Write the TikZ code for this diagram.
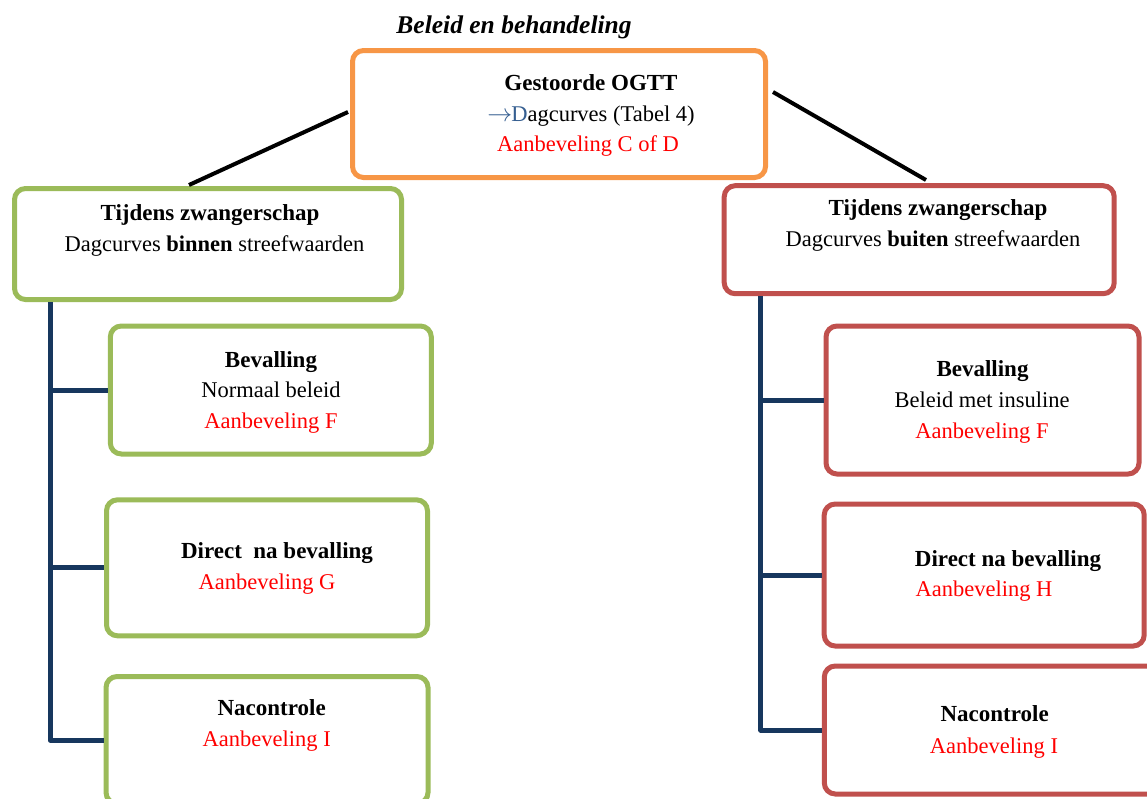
\documentclass[tikz,border=0pt]{standalone}
\usepackage{fontspec}
\setmainfont{Liberation Serif}
\usetikzlibrary{calc}
\definecolor{orangeB}{HTML}{F79646}
\definecolor{greenB}{HTML}{9BBB59}
\definecolor{redB}{HTML}{C0504D}
\definecolor{navy}{HTML}{17375E}
\definecolor{arrowblue}{HTML}{365F91}
\definecolor{recred}{HTML}{FF0000}
\begin{document}
\begin{tikzpicture}[x=1pt,y=-1pt,
  box/.style={draw, line width=5pt, rounded corners=11pt, fill=white, inner sep=0pt},
  txt/.style={anchor=base, inner sep=0pt, font=\fontsize{22.5}{26}\selectfont},
  bold/.style={txt, font=\fontsize{23}{26}\selectfont\bfseries},
  rec/.style={txt, text=recred},
  tree/.style={draw=navy, line width=5pt, line join=round},
  link/.style={draw=black, line width=4pt}]
\useasboundingbox (0,0) rectangle (1147,798);
\clip (0,0) rectangle (1147,798);

% boxes
\node[box, draw=orangeB, minimum width=413pt, minimum height=127pt] (top) at (559,114) {};
\node[box, draw=greenB, minimum width=387pt, minimum height=111pt] (lz) at (208,244) {};
\node[box, draw=redB, minimum width=390pt, minimum height=108pt] (rz) at (919.2,239.7) {};
\node[box, draw=greenB, minimum width=321pt, minimum height=128pt] (b1) at (270.8,390) {};
\node[box, draw=greenB, minimum width=321pt, minimum height=136pt] (b2) at (267,567.8) {};
\node[box, draw=greenB, minimum width=322pt, minimum height=127pt] (b3) at (267,740) {};
\node[box, draw=redB, minimum width=313pt, minimum height=148pt] (r1) at (982.5,400) {};
\node[box, draw=redB, minimum width=320pt, minimum height=142pt] (r2) at (984.2,575) {};
\node[box, draw=redB, minimum width=343pt, minimum height=128pt] (r3) at (995.8,730) {};

% title
\node[anchor=base, inner sep=0pt, font=\fontsize{25.5}{28}\selectfont\bfseries\itshape] (title) at (514,33) {Beleid en behandeling};

% texts
\node[bold] (top1) at (591,90) {Gestoorde OGTT};
\node[txt] (top2) at (591,121.7) {{\color{arrowblue}{\fontsize{30}{30}\selectfont$\rightarrow$}\kern-1pt D}agcurves (Tabel 4)};
\node[rec] (top3) at (588,151.7) {Aanbeveling C of D};

\node[bold] (lz1) at (210,220) {Tijdens zwangerschap};
\node[txt] (lz2) at (214.5,251.7) {Dagcurves \textbf{binnen} streefwaarden};
\node[bold] (rz1) at (938,215) {Tijdens zwangerschap};
\node[txt] (rz2) at (933,246) {Dagcurves \textbf{buiten} streefwaarden};

\node[bold] (b11) at (271,367) {Bevalling};
\node[txt] (b12) at (271,397) {Normaal beleid};
\node[rec] (b13) at (271,428) {Aanbeveling F};
\node[bold] (b21) at (277,558.3) {Direct\ \ na bevalling};
\node[rec] (b22) at (267,589.3) {Aanbeveling G};
\node[bold] (b31) at (271.7,715) {Nacontrole};
\node[rec] (b32) at (266.7,746) {Aanbeveling I};

\node[bold] (r11) at (982.5,376) {Bevalling};
\node[txt] (r12) at (982,407.3) {Beleid met insuline};
\node[rec] (r13) at (982,438.3) {Aanbeveling F};
\node[bold] (r21) at (1008,566.7) {Direct na bevalling};
\node[rec] (r22) at (984,596.7) {Aanbeveling H};
\node[bold] (r31) at (994.7,721.7) {Nacontrole};
\node[rec] (r32) at (994,753.3) {Aanbeveling I};

% links from top box
\coordinate (lA) at (189,185);
\coordinate (rA) at (926,180);
\draw[link] ([xshift=-2pt,yshift=2pt]top.west) -- (lA);
\draw[link] ([xshift=5pt,yshift=22pt]top.east) -- (rA);

% tree lines
\coordinate (lstem) at ([xshift=38pt]lz.south west);
\coordinate (rstem) at ([xshift=39pt]rz.south west);
\draw[tree] (lstem) |- (b3.west);
\draw[tree] (lstem |- b1.west) -- (b1.west);
\draw[tree] (lstem |- b2.west) -- (b2.west);
\draw[tree] (rstem) |- (r3.west);
\draw[tree] (rstem |- r1.west) -- (r1.west);
\draw[tree] (rstem |- r2.west) -- (r2.west);
\end{tikzpicture}
\end{document}
